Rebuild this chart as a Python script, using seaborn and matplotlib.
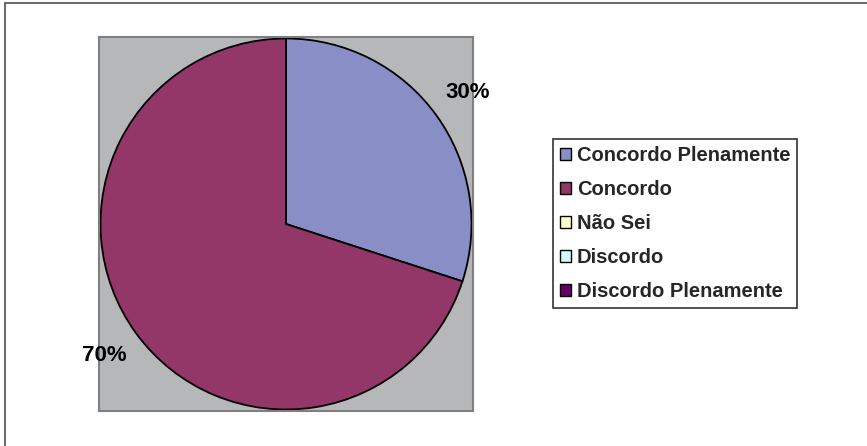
import matplotlib
matplotlib.use("Agg")
import matplotlib.pyplot as plt
from matplotlib.patches import Rectangle, Patch
import seaborn as sns

categories = ["Concordo Plenamente", "Concordo", "Não Sei", "Discordo", "Discordo Plenamente"]
values = [30, 70, 0, 0, 0]
colors = ["#8a8ec6", "#933668", "#ffffcc", "#ccffff", "#660066"]

sns.set_style("white")
plt.rcParams["font.family"] = ["Liberation Sans", "DejaVu Sans"]

fig = plt.figure(figsize=(8.67, 4.46), dpi=100)
fig.patch.set_facecolor("white")

# outer chart frame (right and bottom edges fall outside the canvas)
fig.patches.append(Rectangle((5 / 867, -0.05), 1.0, (446 - 3) / 446 + 0.05,
                             transform=fig.transFigure, fill=False,
                             edgecolor="#6e6e6e", linewidth=1.5))

ax = fig.add_axes([99 / 867, 35 / 446, 374 / 867, 374 / 446])

wedges, _, autotexts = ax.pie(
    values, colors=colors, startangle=90, counterclock=False,
    autopct=lambda p: f"{p:.0f}%" if p > 0 else "",
    pctdistance=1.21, frame=True,
    wedgeprops=dict(edgecolor="black", linewidth=1.3),
    textprops=dict(fontsize=16, fontweight="bold", color="black"),
)
for t in autotexts:
    t.set_clip_on(False)

ax.set_facecolor("#b6b7b9")
ax.set_xlim(-1.008, 1.008)
ax.set_ylim(-1.008, 1.008)
ax.set_aspect("auto")
ax.set_xticks([])
ax.set_yticks([])
for s in ax.spines.values():
    s.set_visible(True)
    s.set_edgecolor("#7f7f7f")
    s.set_linewidth(1.5)

handles = [Patch(facecolor=c, edgecolor="black", linewidth=1.0) for c in colors]
leg = fig.legend(handles, categories, loc="upper left",
                 bbox_to_anchor=(553 / 867, 1 - 139 / 446),
                 frameon=True, fancybox=False, borderaxespad=0,
                 prop=dict(size=14.5, weight="bold"),
                 handlelength=0.53, handleheight=0.53, handletextpad=0.3,
                 labelspacing=0.745, borderpad=0.35)
leg.get_frame().set_edgecolor("black")
leg.get_frame().set_linewidth(1.2)

fig.savefig("out.png", dpi=100)
